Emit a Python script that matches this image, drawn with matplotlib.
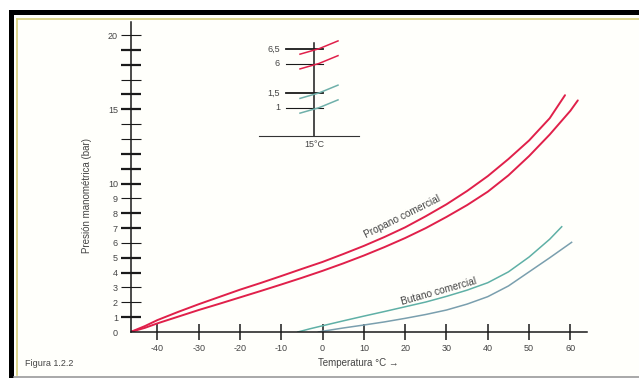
import matplotlib
matplotlib.use("Agg")
import matplotlib.pyplot as plt
from matplotlib.patches import Rectangle

plt.rcParams['font.family'] = ['Liberation Sans', 'DejaVu Sans']

# ---- data ----
propano_sup_t = [-46.5, -43, -40, -35, -30, -25, -20, -15, -10, -5, 0, 5, 10, 15, 20,
                 25, 30, 35, 40, 45, 50, 55, 58.7]
propano_sup_p = [0.0, 0.40, 0.80, 1.35, 1.87, 2.36, 2.85, 3.30, 3.77, 4.25, 4.72, 5.25,
                 5.80, 6.40, 7.05, 7.80, 8.60, 9.50, 10.5, 11.65, 12.9, 14.4, 15.95]
propano_inf_t = [-46.5, -43, -40, -35, -30, -25, -20, -15, -10, -5, 0, 5, 10, 15, 20,
                 25, 30, 35, 40, 45, 50, 55, 60, 61.8]
propano_inf_p = [0.0, 0.28, 0.58, 1.03, 1.48, 1.90, 2.33, 2.76, 3.20, 3.65, 4.12, 4.62,
                 5.15, 5.72, 6.33, 7.00, 7.75, 8.55, 9.45, 10.55, 11.85, 13.3, 14.9, 15.6]
butano_sup_t = [-6.0, -3, 0, 5, 10, 15, 20, 25, 30, 35, 40, 45, 50, 55, 57.9]
butano_sup_p = [0.0, 0.22, 0.42, 0.75, 1.07, 1.38, 1.70, 2.02, 2.40, 2.82, 3.32, 4.05,
                5.05, 6.25, 7.09]
butano_inf_t = [-1.0, 0, 5, 10, 15, 20, 25, 30, 35, 40, 45, 50, 55, 60.3]
butano_inf_p = [0.0, 0.05, 0.27, 0.47, 0.68, 0.92, 1.18, 1.48, 1.88, 2.38, 3.10, 4.05,
                5.0, 6.04]

x_ticks = [-40, -30, -20, -10, 0, 10, 20, 30, 40, 50, 60]
y_ticks = list(range(0, 21))
y_labeled = [0, 1, 2, 3, 4, 5, 6, 7, 8, 9, 10, 15, 20]
y_bold = [1, 4, 5, 7, 8, 10, 11, 12, 15, 16, 18, 19]

inset_levels = ['6,5', '6', '1,5', '1']
inset_slots = [4, 3, 1, 0]
inset_colors = ['#e0204a', '#e0204a', '#6fb0aa', '#6fb0aa']
inset_bold = [True, False, True, False]

RED = '#e0204a'
TEAL1 = '#5fb0a6'
TEAL2 = '#7a9fae'
TXT = '#444444'
AXC = '#1a1a1a'

W, H = 639, 378
fig = plt.figure(figsize=(W / 100, H / 100), dpi=100)
fig.patch.set_facecolor('white')

# ---- frame / border decoration (pixel overlay) ----
ov = fig.add_axes([0, 0, 1, 1], zorder=0)
ov.set_xlim(0, W)
ov.set_ylim(H, 0)
ov.axis('off')
ov.add_patch(Rectangle((14, 15), W - 14, 361, facecolor='#fffffb', edgecolor='none'))
ov.add_patch(Rectangle((9, 10), W - 9, 5, facecolor='black', edgecolor='none'))
ov.add_patch(Rectangle((9, 10), 5, H - 10, facecolor='black', edgecolor='none'))
ov.plot([16.5, W], [19, 19], color='#d8cf7a', lw=1.2)
ov.plot([16.5, 16.5], [19, 375], color='#d8cf7a', lw=1.2)
ov.plot([14, W], [376.5, 376.5], color='#9a9a9a', lw=1.2)

# ---- main axes ----
x0, x1 = -46.5, 64
y0, y1 = 0, 20.9
ax = fig.add_axes([130.5 / W, 46 / H, 456.4 / W, 310.3 / H], zorder=2)
ax.patch.set_alpha(0)
ax.set_xlim(x0, x1)
ax.set_ylim(y0, y1)
for s in ['top', 'right']:
    ax.spines[s].set_visible(False)
for s in ['left', 'bottom']:
    ax.spines[s].set_color(AXC)
    ax.spines[s].set_linewidth(1.1)

ax.plot(propano_sup_t, propano_sup_p, color=RED, lw=1.4, solid_capstyle='round')
ax.plot(propano_inf_t, propano_inf_p, color=RED, lw=1.4, solid_capstyle='round')
ax.plot(butano_sup_t, butano_sup_p, color=TEAL1, lw=1.1)
ax.plot(butano_inf_t, butano_inf_p, color=TEAL2, lw=1.1)

ax.set_xticks(x_ticks)
ax.set_xticklabels([str(v) for v in x_ticks])
ax.tick_params(axis='x', direction='inout', length=11, width=1.1, color=AXC,
               labelsize=6.5, labelcolor=TXT, pad=3)
ax.set_yticks(y_ticks)
ax.set_yticklabels([str(v) if v in y_labeled else '' for v in y_ticks])
ax.tick_params(axis='y', direction='inout', length=15, width=0.8, color=AXC,
               labelsize=6.5, labelcolor=TXT, pad=1.5)
for v, t in zip(y_ticks, ax.yaxis.get_major_ticks()):
    if v == 0:
        t.tick1line.set_visible(False)
    elif v in y_bold:
        t.tick1line.set_markeredgewidth(1.6)

ax.set_xlabel('Temperatura °C →', fontsize=7, color=TXT)
ax.xaxis.set_label_coords(0.4985, -0.10)
ax.xaxis.label.set_va('center')
ax.set_ylabel('Presión manométrica (bar)', fontsize=7, color=TXT)
ax.yaxis.set_label_coords(-0.0953, 0.4415)
ax.yaxis.label.set_va('center')

ax.text(19.3, 7.76, 'Propano comercial', rotation=26.6, rotation_mode='anchor',
        ha='center', va='center', fontsize=7.3, color=TXT)
ax.text(28.2, 2.74, 'Butano comercial', rotation=15.8, rotation_mode='anchor',
        ha='center', va='center', fontsize=7.3, color=TXT)

fig.text(25 / W, 1 - 363 / H, 'Figura 1.2.2', fontsize=6.5, color=TXT,
         ha='left', va='center')

# ---- inset schematic ----
ins = fig.add_axes([255 / W, 1 - 150 / H, 110 / W, 120 / H], zorder=3)
ins.patch.set_alpha(0)
ins.axis('off')
ins.set_xlim(-59, 51)
ins.set_ylim(-2.85, 5.29)
ins.plot([0, 0], [-1.9, 4.4], color=AXC, lw=1.1)
ins.plot([-55, 45], [-1.9, -1.9], color='#333333', lw=0.8)
for lab, sl, col, bold in zip(inset_levels, inset_slots, inset_colors, inset_bold):
    ins.plot([-28, 9], [sl, sl], color=AXC, lw=1.3 if bold else 0.8)
    ins.plot([-14, 5, 24], [sl - 0.35, sl + 0.02, sl + 0.55], color=col, lw=1.1)
    ins.text(-34, sl, lab, ha='right', va='center', fontsize=6.5, color=TXT)
ins.text(0, -2.5, '15°C', ha='center', va='center', fontsize=6.5, color=TXT)

fig.savefig('out.png', dpi=100)
